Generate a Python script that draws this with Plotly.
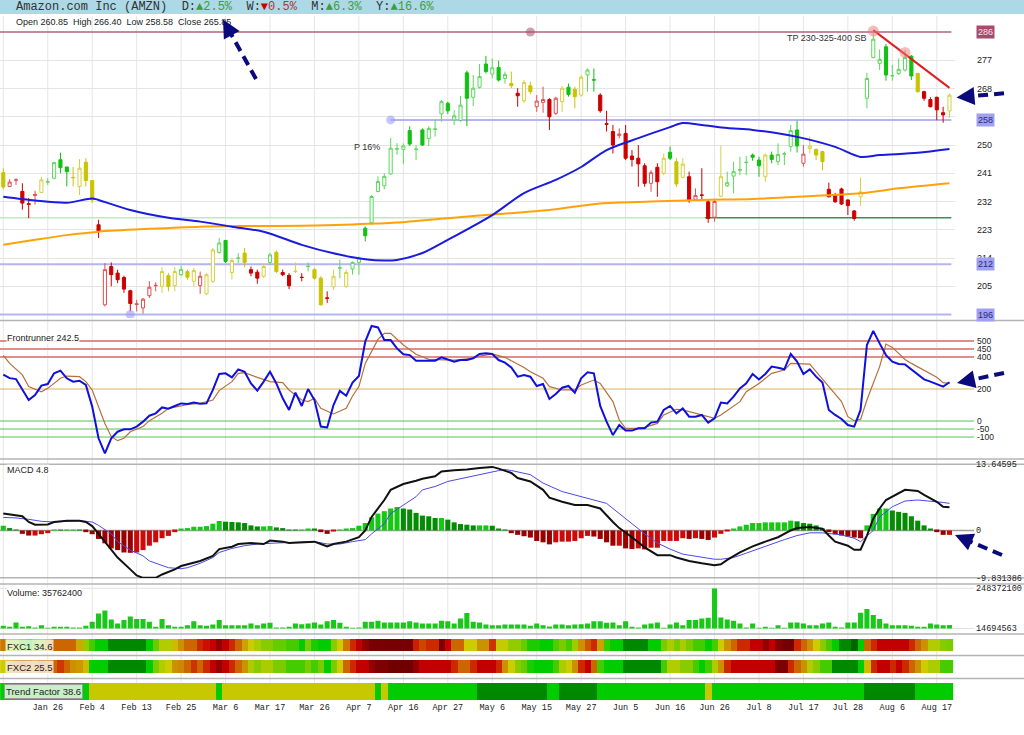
import math
import plotly.graph_objects as go

W, H = 1024, 735

# ---- x axis: one slot per trading day, a date label every 7th bar ----
TICK_BARS = [0, 7, 14, 21, 28, 35, 42, 49, 56, 63, 70, 77, 84, 91, 98, 105, 112, 119, 126, 133, 140, 147]
TICK_LABELS = ["Jan 14", "Jan 26", "Feb 4", "Feb 13", "Feb 25", "Mar 6", "Mar 17", "Mar 26",
               "Apr 7", "Apr 16", "Apr 27", "May 6", "May 15", "May 27", "Jun 5", "Jun 16",
               "Jun 26", "Jul 8", "Jul 17", "Jul 28", "Aug 6", "Aug 17"]

# ---- price candles ----
OPEN = [241.2, 236.8, 238.8, 235.2, 231.3, 233.9, 234.9, 238.2, 239.4, 245.3,
        243.0, 239.7, 236.8, 244.5, 238.7, 224.6, 199.1, 211.3, 209.2, 207.8,
        203.6, 199.2, 198.1, 202.0, 205.2, 205.0, 208.4, 205.2, 208.7, 209.7,
        206.6, 205.2, 202.6, 206.6, 215.8, 219.6, 209.4, 213.9, 215.6, 210.3,
        209.5, 208.2, 212.6, 215.8, 209.4, 208.5, 209.7, 207.9, 211.3, 210.3,
        207.6, 201.3, 204.8, 210.8, 205.0, 210.5, 212.6, 223.5, 225.3, 235.2,
        237.0, 240.8, 248.7, 248.6, 254.6, 248.6, 254.8, 252.1, 255.0, 259.9,
        263.3, 258.0, 257.8, 273.0, 265.2, 268.4, 275.8, 272.6, 274.7, 271.2,
        269.6, 266.5, 264.1, 268.9, 262.2, 263.6, 264.5, 260.1, 263.8, 268.4,
        267.7, 265.9, 272.3, 270.8, 265.9, 256.8, 254.3, 253.0, 253.7, 246.5,
        245.8, 243.4, 237.8, 242.9, 241.0, 247.7, 244.7, 239.7, 239.9, 232.7,
        234.1, 231.9, 227.0, 233.7, 237.0, 240.1, 242.0, 244.4, 246.8, 245.2,
        239.9, 246.8, 244.7, 247.1, 249.5, 254.8, 244.2, 248.9, 248.6, 247.9,
        235.9, 234.1, 236.0, 232.5, 229.0, 233.5, 264.9, 277.9, 276.0, 281.3,
        272.0, 272.8, 273.9, 278.3, 272.8, 267.0, 264.5, 265.2, 260.3, 260.85]
HIGH = [242.6, 239.1, 239.4, 237.8, 233.1, 235.4, 239.9, 239.4, 244.7, 247.6,
        243.1, 243.0, 245.5, 245.8, 238.9, 226.2, 212.4, 212.6, 210.3, 208.4,
        203.9, 200.7, 201.3, 206.6, 206.3, 211.1, 209.2, 211.1, 211.6, 210.3,
        210.8, 209.7, 209.2, 217.2, 220.4, 219.8, 214.0, 215.6, 217.2, 211.3,
        210.3, 212.4, 215.6, 216.4, 210.3, 209.2, 212.6, 209.2, 212.6, 210.8,
        208.2, 203.4, 210.3, 213.5, 210.3, 212.9, 214.5, 224.1, 234.1, 240.0,
        241.0, 252.2, 250.6, 250.5, 256.0, 250.0, 255.3, 256.0, 258.0, 264.3,
        263.8, 261.1, 265.6, 273.7, 272.3, 275.8, 278.4, 277.6, 276.9, 273.4,
        273.4, 268.1, 270.7, 270.2, 265.9, 268.6, 264.9, 265.4, 268.8, 269.6,
        268.6, 272.3, 274.4, 274.4, 266.5, 260.9, 256.4, 255.3, 256.4, 248.4,
        250.0, 244.2, 242.0, 244.2, 247.3, 249.5, 245.8, 245.8, 241.5, 236.2,
        242.6, 232.7, 232.5, 249.7, 241.5, 244.7, 246.3, 246.5, 247.3, 246.3,
        247.3, 247.9, 250.5, 247.9, 256.4, 257.8, 250.0, 252.7, 248.9, 248.2,
        238.0, 234.8, 236.4, 232.7, 229.3, 239.7, 273.0, 285.6, 280.5, 282.2,
        275.5, 277.6, 280.3, 278.7, 273.0, 267.3, 265.2, 265.4, 262.2, 266.40]
LOW = [235.9, 236.6, 237.3, 229.4, 226.7, 231.0, 234.7, 237.3, 239.1, 241.0,
       236.8, 236.8, 234.1, 236.8, 231.5, 220.4, 198.6, 205.0, 206.0, 202.9,
       197.0, 197.0, 196.3, 201.3, 203.4, 202.9, 203.4, 203.4, 208.2, 207.1,
       205.0, 202.6, 202.3, 206.0, 215.4, 212.4, 207.1, 212.4, 211.1, 208.2,
       205.8, 207.6, 211.9, 209.2, 208.2, 204.1, 209.2, 206.6, 209.7, 207.1,
       198.8, 199.7, 203.9, 207.6, 204.5, 208.7, 208.7, 219.3, 224.6, 234.9,
       235.9, 240.5, 246.9, 243.9, 249.7, 245.2, 249.7, 249.7, 252.7, 257.4,
       259.9, 256.4, 257.4, 256.0, 262.4, 268.0, 272.8, 271.2, 270.2, 269.6,
       268.1, 262.2, 263.3, 266.2, 260.6, 260.3, 254.8, 259.6, 260.6, 265.4,
       261.7, 265.4, 267.0, 267.0, 260.3, 254.3, 247.3, 252.1, 245.2, 243.1,
       236.7, 236.7, 235.1, 233.5, 240.4, 245.2, 236.7, 239.4, 231.6, 232.3,
       232.5, 225.2, 225.6, 233.3, 236.7, 234.6, 240.4, 240.4, 245.0, 239.9,
       238.3, 244.2, 243.6, 243.6, 247.9, 247.6, 243.1, 247.3, 245.2, 242.0,
       233.3, 231.6, 230.9, 227.7, 225.9, 230.6, 261.7, 277.6, 273.9, 270.5,
       270.5, 272.3, 273.4, 270.7, 266.7, 264.1, 262.0, 257.9, 257.1, 258.58]
CLOSE = [236.6, 238.2, 238.9, 231.5, 231.1, 234.3, 238.9, 238.3, 244.4, 242.8,
         241.5, 239.6, 242.6, 238.7, 232.5, 222.5, 210.3, 208.7, 207.1, 204.1,
         199.5, 199.4, 200.9, 204.7, 205.3, 209.7, 205.0, 209.7, 210.3, 207.9,
         210.0, 208.2, 208.7, 216.6, 218.8, 212.9, 213.2, 214.0, 212.6, 209.2,
         207.6, 211.3, 215.0, 209.7, 208.7, 205.2, 209.8, 207.8, 211.4, 207.6,
         199.1, 201.2, 208.2, 210.9, 209.4, 212.6, 214.0, 221.1, 233.6, 238.4,
         240.0, 249.0, 248.8, 249.7, 250.3, 248.7, 250.0, 255.3, 255.1, 263.8,
         260.9, 259.3, 262.7, 264.9, 268.1, 271.8, 273.4, 274.6, 270.7, 272.5,
         268.9, 265.7, 269.9, 267.0, 264.0, 264.5, 259.0, 264.9, 268.1, 266.1,
         265.4, 271.6, 273.9, 270.7, 260.9, 256.6, 250.0, 253.5, 245.8, 245.4,
         244.0, 237.8, 241.2, 238.3, 245.8, 245.8, 237.6, 243.9, 232.3, 233.9,
         234.0, 226.6, 232.0, 239.9, 238.0, 241.5, 242.1, 244.5, 246.1, 243.4,
         246.8, 245.4, 247.0, 247.2, 254.6, 249.7, 247.1, 249.7, 246.8, 244.7,
         233.5, 231.9, 231.2, 230.7, 226.6, 235.1, 271.2, 283.7, 277.3, 272.3,
         272.1, 274.1, 277.9, 272.0, 267.0, 264.9, 262.2, 261.2, 259.6, 265.85]
# G = green, Y = yellow, R = red candle state
CANDLE_STATE = ("YRRRRRYGGG" "GYYYYRRRRR" "RRRRRYYYGY" "YRYYGGYGYR" "RYGYRRYRGY"
                "YRYGYGGGGG" "GGGGGGGGGG" "GGGGGGGGGG" "YRYYRRRRYG" "YYGGRRRRRR"
                "RRRRYGYYRR" "RRRYGGGGGG" "YGGGGGRYYY" "RRRRRYGGGG" "GGGGYRRRRY")

# moving averages (bar, value)
MA_FAST_BARS = [0, 5, 10, 14, 15, 20, 26, 31, 36, 41, 47, 52, 57, 60, 62, 66, 70, 77, 82, 87,
                91, 95, 100, 105, 107, 110, 114, 118, 125, 131, 135, 138, 144, 149]
MA_FAST = [233.5, 232.3, 231.6, 233.0, 232.5, 229.3, 226.8, 225.6, 224.0, 222.4, 218.2, 215.5,
           213.6, 213.2, 213.4, 215.6, 219.8, 227.7, 234.7, 238.9, 243.0, 248.4, 252.2, 255.7,
           257.0, 256.4, 255.4, 254.8, 252.6, 249.4, 246.2, 246.8, 247.5, 248.7]
MA_SLOW_BARS = [0, 5, 10, 15, 23, 31, 39, 47, 55, 62, 70, 78, 86, 94, 102, 110, 118, 125, 135, 141, 149]
MA_SLOW = [218.2, 219.8, 221.3, 222.4, 223.3, 224.0, 224.2, 224.3, 224.7, 225.3, 226.7, 228.0,
           229.3, 231.4, 232.0, 232.5, 232.8, 233.5, 234.6, 236.2, 237.8]

PRICE_TICKS = [205, 214, 223, 232, 241, 250, 259, 268, 277]
PIVOT_BARS = [83, 61, 20]
PIVOT_PRICES = [286, 258, 196]
PEAK_BARS = [137, 142]
PEAK_PRICES = [286.3, 279.5]
TREND_LINE_BARS = [137, 149]
TREND_LINE_PRICES = [286.6, 268.2]
SUPPORT_LEVEL = 226.8
SUPPORT_SWITCH_BAR = 110.5

# ---- Frontrunner ----
FR_BARS = list(range(150))
FR_MAIN = [290, 268, 262, 194, 131, 162, 221, 231, 298, 315, 267, 246, 252, 225, 90, -108, -202, -108,
           -67, -52, -52, -35, -4, 33, 48, 85, 77, 94, 110, 106, 115, 108, 110, 194, 294, 298, 273,
           323, 308, 235, 190, 246, 308, 235, 142, 69, 177, 94, 200, 131, -35, -40, 100, 188, 158,
           240, 281, 496, 594, 585, 506, 506, 454, 417, 412, 377, 377, 377, 377, 398, 385, 371, 381,
           381, 392, 419, 423, 419, 381, 365, 335, 277, 288, 277, 219, 231, 138, 169, 208, 219, 177,
           267, 304, 298, 94, -4, -88, -25, -60, -60, -46, -46, -10, -4, 69, 94, 48, 79, 27, 27, 38,
           -10, 17, 115, 110, 152, 204, 235, 294, 260, 294, 340, 333, 323, 419, 371, 294, 323, 277,
           240, 69, 38, 13, -25, -35, 69, 475, 563, 485, 412, 371, 356, 354, 323, 288, 260, 246, 231,
           215, 242.5]
FR_SIG_BARS = [0, 1, 3, 4, 6, 7, 9, 10, 12, 13, 14, 15, 16, 17, 18, 19, 20, 22, 23, 25, 26, 28, 29,
               31, 33, 34, 36, 37, 38, 40, 42, 44, 45, 47, 48, 49, 50, 52, 54, 55, 56, 57, 59, 60, 61,
               63, 65, 67, 69, 71, 74, 75, 77, 79, 80, 82, 83, 85, 86, 88, 90, 91, 93, 94, 96, 97, 98,
               100, 101, 103, 104, 106, 107, 109, 111, 112, 113, 114, 116, 117, 119, 121, 123, 124,
               126, 127, 128, 130, 132, 133, 134, 135, 136, 138, 139, 140, 142, 143, 145, 147, 148, 149]
FR_SIG = [410, 360, 288, 215, 183, 204, 267, 281, 277, 246, 194, 90, -15, -98, -123, -108, -67, -35, 2,
          48, 79, 94, 104, 110, 131, 190, 246, 298, 302, 273, 246, 240, 194, 131, 121, 142, 79, 44, 79,
          156, 215, 360, 510, 548, 548, 475, 417, 385, 385, 381, 392, 406, 419, 398, 376, 335, 308, 267,
          215, 194, 194, 225, 256, 235, 121, 6, -46, -46, -40, -15, 38, 73, 69, 48, 27, 17, 38, 65, 121,
          183, 235, 298, 319, 360, 356, 356, 308, 215, 121, 27, 2, 10, 131, 340, 481, 460, 385, 360,
          315, 273, 240, 235]
FR_HIGH_LEVELS = [500, 450, 400]
FR_MID_LEVEL = 200
FR_LOW_LEVELS = [0, -50, -100]

# ---- MACD ----
MACD_HIST = [0.98, 0.49, 0.1, -0.7, -1.05, -1.05, -0.77, -0.56, 0.1, 0.05, 0.05, 0.1, 0.05, -0.35,
             -0.77, -1.75, -2.66, -3.71, -4.06, -4.55, -4.62, -4.55, -4.06, -3.15, -2.45, -1.61,
             -1.12, -0.35, 0.21, 0.49, 0.77, 0.77, 0.91, 1.4, 1.96, 1.82, 1.75, 1.68, 1.54, 1.05, 0.84,
             0.84, 0.91, 0.63, 0.49, 0.1, 0.05, 0.05, 0.35, 0.28, -0.35, -0.7, -0.21, 0.05, 0.28, 0.49,
             0.98, 1.54, 2.73, 3.5, 3.99, 4.55, 4.83, 4.55, 4.34, 3.64, 3.08, 2.94, 2.59, 2.59, 2.24,
             1.68, 1.33, 1.19, 1.05, 1.05, 1.05, 0.98, 0.35, 0.05, -0.56, -0.91, -1.19, -1.47, -2.17,
             -2.45, -2.87, -2.45, -2.31, -2.31, -2.17, -1.61, -1.12, -1.26, -1.75, -2.45, -3.15, -3.15,
             -3.71, -3.85, -3.71, -3.92, -3.57, -3.57, -2.17, -2.17, -2.17, -1.61, -1.75, -1.61, -1.75,
             -1.96, -1.47, -0.7, -0.21, 0.35, 0.84, 1.19, 1.54, 1.54, 1.68, 1.68, 1.68, 1.68, 2.03,
             1.89, 1.54, 1.4, 1.05, 0.35, -0.35, -0.77, -1.05, -1.26, -1.47, -1.61, 1.05, 3.43, 4.55,
             4.55, 4.13, 3.85, 3.64, 2.94, 2.03, 1.05, 0.35, -0.35, -0.91, -0.91]
MACD_BARS = [0, 1, 3, 4, 5, 7, 8, 10, 12, 13, 14, 15, 17, 18, 20, 21, 22, 24, 25, 27, 28, 30, 31, 33,
             34, 36, 37, 39, 41, 42, 44, 45, 47, 49, 50, 51, 52, 54, 56, 57, 58, 60, 61, 63, 65, 66,
             68, 69, 71, 73, 75, 77, 78, 80, 81, 83, 85, 86, 88, 90, 92, 94, 96, 97, 99, 101, 103, 105,
             106, 108, 110, 112, 113, 114, 116, 118, 120, 122, 124, 125, 127, 129, 130, 131, 133, 134,
             135, 136, 137, 138, 139, 141, 142, 144, 145, 147, 148, 149]
MACD_LINE = [3.5, 3.29, 2.94, 1.75, 1.19, 1.26, 1.75, 2.03, 2.03, 1.75, 0.91, -0.7, -3.85, -5.6, -8.05,
             -9.31, -9.8, -9.8, -9.1, -8.05, -7.35, -6.65, -6.3, -5.25, -3.85, -3.36, -2.8, -2.59,
             -2.8, -2.1, -2.31, -2.59, -2.45, -2.31, -2.8, -3.29, -2.8, -2.31, -1.4, 0.0, 2.8, 6.3, 8.4,
             9.6, 10.3, 10.7, 11.2, 12.2, 12.45, 12.6, 12.94, 13.15, 12.8, 11.9, 10.84, 10.14, 8.4, 6.8,
             5.94, 5.25, 5.25, 4.55, 1.75, 0.49, -1.4, -3.5, -5.11, -5.11, -5.6, -6.3, -6.79, -7.21,
             -7.0, -6.09, -4.55, -3.29, -2.31, -1.4, 0.0, 0.49, 0.7, 0.35, -1.05, -2.31, -3.15, -3.99,
             -3.99, -1.05, 2.45, 4.55, 6.3, 7.7, 8.4, 8.19, 7.35, 5.94, 4.9, 4.8]
SIGNAL_BARS = [0, 2, 4, 6, 8, 10, 12, 14, 15, 17, 18, 20, 22, 23, 25, 26, 28, 29, 31, 33, 34, 36, 38,
               40, 43, 45, 47, 49, 51, 53, 55, 57, 58, 60, 61, 63, 65, 66, 68, 70, 72, 74, 76, 78, 79,
               80, 83, 85, 88, 91, 93, 95, 97, 99, 101, 103, 105, 107, 110, 112, 113, 115, 117, 119,
               121, 123, 125, 127, 129, 132, 134, 135, 137, 138, 140, 142, 144, 146, 148, 149]
SIGNAL_LINE = [2.7, 2.59, 2.31, 1.89, 1.75, 1.89, 2.03, 1.75, 1.05, -0.7, -2.31, -4.06, -5.25, -6.3,
               -7.21, -7.7, -7.91, -7.7, -6.79, -5.6, -4.55, -3.71, -3.15, -2.8, -2.59, -2.45, -2.31,
               -2.31, -2.8, -2.8, -2.31, -1.89, -0.7, 1.4, 3.5, 5.25, 6.99, 8.4, 9.1, 10.14, 10.7,
               11.4, 11.9, 12.38, 12.6, 12.4, 11.54, 9.8, 8.05, 7.0, 6.44, 5.6, 3.5, 1.4, -0.7, -2.59,
               -3.85, -4.9, -5.6, -5.95, -5.95, -5.6, -4.69, -3.71, -2.8, -1.89, -1.05, -0.49, -0.49,
               -0.91, -1.61, -2.31, 0.0, 2.8, 4.9, 6.09, 6.3, 6.09, 5.8, 5.6]
MACD_MAX = 13.64595
MACD_MIN = -9.831386

# ---- Volume (millions) ----
VOLUME_M = [30.0, 24.4, 49.7, 24.4, 28.3, 20.5, 34.2, 18.6, 24.4, 24.4, 24.4, 20.5, 20.5, 30.3, 53.6,
            102.3, 119.8, 67.3, 43.9, 63.4, 84.8, 69.2, 69.2, 53.6, 24.4, 69.2, 34.2, 24.4, 24.4, 34.2,
            57.5, 34.2, 30.3, 38.1, 63.4, 34.2, 34.2, 34.2, 34.2, 43.9, 34.2, 43.9, 47.8, 20.5, 20.5,
            24.4, 43.9, 40.0, 43.9, 49.7, 38.1, 57.5, 63.4, 47.8, 24.4, 18.6, 20.5, 53.6, 53.6, 59.5,
            49.7, 49.7, 49.7, 49.7, 57.5, 49.7, 43.9, 43.9, 43.9, 59.5, 57.5, 43.9, 73.1, 104.2, 53.6,
            49.7, 38.1, 34.2, 34.2, 38.1, 38.1, 38.1, 38.1, 30.3, 43.9, 34.2, 26.4, 38.1, 38.1, 34.2,
            38.1, 40.0, 43.9, 57.5, 57.5, 47.8, 49.7, 34.2, 57.5, 24.4, 20.5, 38.1, 43.9, 49.7, 18.6,
            38.1, 49.7, 34.2, 63.4, 63.4, 73.1, 77.0, 248.37, 78.9, 67.3, 59.5, 43.9, 20.5, 43.9, 18.6,
            24.4, 18.6, 34.2, 18.6, 49.7, 49.7, 43.9, 34.2, 34.2, 43.9, 49.7, 24.4, 20.5, 49.7, 49.7,
            106.2, 127.6, 92.6, 69.2, 43.9, 34.2, 34.2, 34.2, 30.3, 24.4, 24.4, 43.9, 38.1, 34.2, 35.76]
VOL_MAX_M = 248.3721
VOL_MIN_M = 14.694563

# ---- heat strips (0 = deep red ... 100 = deep green) ----
FXC1 = [42, 70, 70, 80, 85, 75, 70, 45, 40, 40, 40, 40, 48, 68, 80, 88, 88, 95, 95, 95,
        95, 95, 95, 88, 75, 60, 60, 50, 45, 40, 40, 30, 25, 20, 10, 20, 30, 40, 47, 52,
        62, 70, 70, 75, 75, 80, 80, 88, 72, 85, 88, 88, 70, 52, 42, 30, 20, 10, 3, 3,
        3, 3, 3, 3, 3, 28, 35, 30, 30, 5, 22, 40, 40, 52, 52, 45, 45, 32, 55, 55,
        68, 68, 75, 85, 85, 88, 88, 78, 72, 80, 65, 45, 38, 30, 47, 82, 88, 88, 95, 95,
        95, 95, 88, 88, 72, 62, 72, 62, 72, 80, 80, 88, 80, 52, 45, 40, 30, 30, 20, 20,
        10, 20, 8, 2, 2, 30, 40, 45, 52, 70, 80, 88, 95, 95, 100, 88, 40, 30, 20, 20,
        20, 20, 20, 30, 40, 45, 60, 60, 70, 72]
FXC2 = [52, 45, 42, 40, 42, 45, 40, 42, 40, 33, 40, 45, 46, 50, 88, 88, 88, 95, 95, 95,
        95, 95, 95, 88, 72, 60, 52, 45, 44, 40, 32, 40, 30, 20, 10, 20, 30, 40, 45, 62,
        70, 62, 62, 72, 72, 80, 80, 80, 72, 80, 72, 88, 72, 52, 40, 30, 20, 20, 10, 5,
        5, 0, 0, 0, 0, 10, 20, 20, 20, 20, 20, 30, 40, 40, 30, 20, 20, 20, 30, 45,
        52, 70, 75, 85, 88, 88, 88, 80, 62, 52, 45, 30, 20, 40, 80, 88, 88, 88, 95, 95,
        95, 95, 95, 95, 80, 60, 60, 70, 70, 80, 88, 80, 62, 45, 30, 20, 20, 20, 20, 20,
        20, 20, 5, 5, 30, 40, 45, 60, 70, 80, 80, 95, 95, 95, 95, 88, 50, 30, 20, 20,
        30, 20, 30, 40, 45, 52, 62, 62, 80, 80]
# 0 = yellow, 1 = green, 2 = dark green
TREND = ("1111111111" "1111000000" "0000000000" "0000100000" "0000000000"
         "0000000001" "0111111111" "1111122222" "2222221122" "2222111111"
         "1111111111" "1011111111" "1111111111" "1111112222" "2222111111")

BARS = list(range(len(CLOSE)))
X_RANGE = [-0.52, 149.87]
X_DOMAIN = [0, 955 / W]
NAVY = "#0a0a7d"
SANS = "Liberation Sans"
MONO = "Liberation Mono"


def px(x):
    return x / W


def py(y):
    return 1 - y / H


fig = go.Figure()

# price panel
fig.add_trace(go.Scatter(x=MA_SLOW_BARS, y=MA_SLOW, mode="lines", hoverinfo="skip",
                         line=dict(color="#ffa20a", width=2, shape="spline", smoothing=0.8)))
fig.add_trace(go.Scatter(x=MA_FAST_BARS, y=MA_FAST, mode="lines", hoverinfo="skip",
                         line=dict(color="#1a1ae0", width=2, shape="spline", smoothing=0.8)))

CANDLE_STYLE = {"G": ("#12c012", "#5cd85c"), "Y": ("#c8c400", "#d4d040"), "R": ("#cc0000", "#e05050")}
for state, (solid, light) in CANDLE_STYLE.items():
    idx = [i for i in BARS if CANDLE_STATE[i] == state]
    fig.add_trace(go.Candlestick(
        x=idx, open=[OPEN[i] for i in idx], high=[HIGH[i] for i in idx],
        low=[LOW[i] for i in idx], close=[CLOSE[i] for i in idx],
        increasing=dict(line=dict(color=light, width=1), fillcolor="white"),
        decreasing=dict(line=dict(color=solid, width=1), fillcolor=solid),
        hoverinfo="skip", xaxis="x", yaxis="y"))

fig.add_trace(go.Scatter(x=TREND_LINE_BARS, y=TREND_LINE_PRICES, mode="lines", hoverinfo="skip",
                         line=dict(color="#dd2020", width=2)))
fig.add_trace(go.Scatter(x=PIVOT_BARS, y=PIVOT_PRICES, mode="markers", hoverinfo="skip",
                         marker=dict(size=9, color=["rgba(170,80,110,0.55)", "rgba(150,150,255,0.55)",
                                                    "rgba(150,150,255,0.55)"])))
fig.add_trace(go.Scatter(x=PEAK_BARS, y=PEAK_PRICES, mode="markers", hoverinfo="skip",
                         marker=dict(size=11, color="rgba(240,120,120,0.5)")))

# frontrunner
fig.add_trace(go.Scatter(x=FR_SIG_BARS, y=FR_SIG, mode="lines", hoverinfo="skip",
                         line=dict(color="#b5703c", width=1.2), xaxis="x2", yaxis="y2"))
fig.add_trace(go.Scatter(x=FR_BARS, y=FR_MAIN, mode="lines", hoverinfo="skip",
                         line=dict(color="#1010dd", width=2), xaxis="x2", yaxis="y2"))

# macd
hist_colors = []
for k, h in enumerate(MACD_HIST):
    prev = MACD_HIST[k - 1] if k else h
    if h >= 0:
        hist_colors.append("#14c814" if h >= prev else "#058c05")
    else:
        hist_colors.append("#cc0a0a" if h >= prev else "#9a0000")
fig.add_trace(go.Bar(x=BARS, y=MACD_HIST, marker=dict(color=hist_colors, line=dict(width=0)),
                     width=0.8, hoverinfo="skip", xaxis="x3", yaxis="y3"))
fig.add_trace(go.Scatter(x=SIGNAL_BARS, y=SIGNAL_LINE, mode="lines", hoverinfo="skip",
                         line=dict(color="#4a4ae8", width=1), xaxis="x3", yaxis="y3"))
fig.add_trace(go.Scatter(x=MACD_BARS, y=MACD_LINE, mode="lines", hoverinfo="skip",
                         line=dict(color="#111111", width=2), xaxis="x3", yaxis="y3"))

# volume
fig.add_trace(go.Bar(x=BARS, y=VOLUME_M, marker=dict(color="#19c819", line=dict(width=0)),
                     width=0.8, hoverinfo="skip", xaxis="x4", yaxis="y4"))

# heat strips
FXC_SCALE = [[0, "#700000"], [0.08, "#880000"], [0.15, "#aa0000"], [0.22, "#cc0000"],
             [0.32, "#cc3300"], [0.40, "#cc6600"], [0.46, "#cc9900"], [0.52, "#cccc00"],
             [0.62, "#aacc00"], [0.70, "#88cc00"], [0.80, "#44cc00"], [0.88, "#00cc00"],
             [0.95, "#008800"], [1, "#006600"]]
fig.add_trace(go.Heatmap(x=BARS, y=[0], z=[FXC1], colorscale=FXC_SCALE, zmin=0, zmax=100,
                         showscale=False, hoverinfo="skip", xaxis="x5", yaxis="y5"))
fig.add_trace(go.Heatmap(x=BARS, y=[0], z=[FXC2], colorscale=FXC_SCALE, zmin=0, zmax=100,
                         showscale=False, hoverinfo="skip", xaxis="x6", yaxis="y6"))
fig.add_trace(go.Heatmap(x=BARS, y=[0], z=[[int(c) for c in TREND]],
                         colorscale=[[0, "#c8c800"], [0.5, "#00cc00"], [1, "#008800"]],
                         zmin=0, zmax=2, showscale=False, hoverinfo="skip", xaxis="x7", yaxis="y7"))

# ---- shapes ----
shapes = []
for b in TICK_BARS:
    shapes.append(dict(type="line", xref="x", yref="paper", x0=b, x1=b, y0=py(700), y1=py(16),
                       line=dict(color="#e6e6e6", width=1), layer="below"))
shapes.append(dict(type="rect", xref="paper", yref="paper", x0=0, x1=1, y0=py(14), y1=1,
                   fillcolor="#add8e6", line=dict(width=0), layer="below"))
for yy in [320.5, 459, 464.3, 577.7, 584, 634, 655.5, 678.5]:
    shapes.append(dict(type="line", xref="paper", yref="paper", x0=0, x1=1, y0=py(yy), y1=py(yy),
                       line=dict(color="#b4b4b4", width=1.5), layer="below"))
for yy in [588.3, 628.5]:
    shapes.append(dict(type="line", xref="paper", yref="paper", x0=0, x1=px(974), y0=py(yy), y1=py(yy),
                       line=dict(color="#e2e2e2", width=1), layer="below"))
last_x = BARS[-1] + 0.3
shapes += [
    dict(type="line", xref="x", yref="y", x0=X_RANGE[0], x1=last_x, y0=PIVOT_PRICES[0], y1=PIVOT_PRICES[0],
         line=dict(color="#b06080", width=1.5), layer="below"),
    dict(type="line", xref="x", yref="y", x0=PIVOT_BARS[1], x1=last_x, y0=PIVOT_PRICES[1], y1=PIVOT_PRICES[1],
         line=dict(color="#b4b4f4", width=2), layer="below"),
    dict(type="line", xref="x", yref="y", x0=X_RANGE[0], x1=last_x, y0=212, y1=212,
         line=dict(color="#b4b4f4", width=2), layer="below"),
    dict(type="line", xref="x", yref="y", x0=X_RANGE[0], x1=last_x, y0=PIVOT_PRICES[2], y1=PIVOT_PRICES[2],
         line=dict(color="#b4b4f4", width=2), layer="below"),
    dict(type="line", xref="x", yref="y", x0=X_RANGE[0], x1=SUPPORT_SWITCH_BAR, y0=SUPPORT_LEVEL,
         y1=SUPPORT_LEVEL, line=dict(color="#c4e6c4", width=1.5), layer="below"),
    dict(type="line", xref="x", yref="y", x0=SUPPORT_SWITCH_BAR, x1=last_x, y0=SUPPORT_LEVEL,
         y1=SUPPORT_LEVEL, line=dict(color="#3c8c5c", width=1.5), layer="below"),
]
for lv in FR_HIGH_LEVELS:
    shapes.append(dict(type="line", xref="paper", yref="y2", x0=0, x1=px(974), y0=lv, y1=lv,
                       line=dict(color="#e68a8a", width=2), layer="below"))
shapes.append(dict(type="line", xref="paper", yref="y2", x0=0, x1=px(974), y0=FR_MID_LEVEL, y1=FR_MID_LEVEL,
                   line=dict(color="#d8b45a", width=1), layer="below"))
for lv in FR_LOW_LEVELS:
    shapes.append(dict(type="line", xref="paper", yref="y2", x0=0, x1=px(974), y0=lv, y1=lv,
                       line=dict(color="#55c055", width=1), layer="below"))
shapes.append(dict(type="line", xref="paper", yref="y3", x0=0, x1=px(974), y0=0, y1=0,
                   line=dict(color="#a0a0a0", width=1.5), layer="below"))

# ---- annotations ----
ann = []
header = ('<span style="color:#333">Amazon.com Inc (AMZN)\u00a0\u00a0D:</span>'
          '<span style="color:#3d9d3d">▲2.5%</span>'
          '<span style="color:#333">\u00a0\u00a0W:</span>'
          '<span style="color:#cc0000">▼</span><span style="color:#a83a3a">0.5%</span>'
          '<span style="color:#333">\u00a0\u00a0M:</span>'
          '<span style="color:#3d9d3d">▲6.3%</span>'
          '<span style="color:#333">\u00a0\u00a0Y:</span>'
          '<span style="color:#3d9d3d">▲16.6%</span>')
ann.append(dict(xref="paper", yref="paper", x=px(14), y=py(7), text=header, showarrow=False,
                xanchor="left", yanchor="middle", font=dict(family=MONO, size=12)))
ann.append(dict(xref="paper", yref="paper", x=px(14), y=py(22),
                text="Open 260.85\u00a0 High 266.40\u00a0 Low 258.58\u00a0 Close 265.85",
                showarrow=False, xanchor="left", yanchor="middle", font=dict(family=SANS, size=9, color="#222")))
ann.append(dict(xref="paper", yref="paper", x=px(868), y=py(38), text="TP 230-325-400 SB", showarrow=False,
                xanchor="right", yanchor="middle", font=dict(family=SANS, size=9, color="#333")))
ann.append(dict(xref="paper", yref="paper", x=px(352), y=py(147), text="P 16%", showarrow=False,
                xanchor="left", yanchor="middle", font=dict(family=SANS, size=9, color="#333")))

for txt, yy in [("Frontrunner 242.5", 338), ("MACD 4.8", 470), ("Volume: 35762400", 593)]:
    ann.append(dict(xref="paper", yref="paper", x=px(6), y=py(yy), text=txt, showarrow=False,
                    xanchor="left", yanchor="middle", bgcolor="rgba(255,255,255,0.85)", borderpad=0,
                    font=dict(family=SANS, size=9, color="#222")))
for txt, yy in [("FXC1 34.6", 646), ("FXC2 25.5", 667.5)]:
    ann.append(dict(xref="paper", yref="paper", x=px(5), y=py(yy), text=txt, showarrow=False,
                    xanchor="left", yanchor="middle", bgcolor="rgba(255,255,255,0.75)", borderpad=1,
                    font=dict(family=SANS, size=9.5, color="#222")))
ann.append(dict(xref="paper", yref="paper", x=px(4), y=py(691.5), text="Trend Factor 38.6", showarrow=False,
                xanchor="left", yanchor="middle", bgcolor="rgba(235,245,235,0.85)", bordercolor="#9a9a9a",
                borderwidth=1, borderpad=1, font=dict(family=SANS, size=9.5, color="#222")))

for lv, bg, fg in [(286, "#a84a6c", "#f4e0e8"), (258, "#a0a0f0", "#2a2a80"),
                   (212, "#a0a0f0", "#2a2a80"), (196, "#a0a0f0", "#2a2a80")]:
    ann.append(dict(xref="paper", yref="y", x=px(985), y=lv, text=str(lv), showarrow=False,
                    xanchor="center", yanchor="middle", bgcolor=bg, borderpad=1,
                    font=dict(family=SANS, size=9, color=fg)))

ARROWS = [((256, 79), (223, 19.5)), ((1004, 93.3), (956.5, 97.5)),
          ((1004, 373), (957, 383)), ((1002, 555), (955, 535))]
HEAD = 18
for (tx, ty), (hx, hy) in ARROWS:
    dx, dy = tx - hx, ty - hy
    n = math.hypot(dx, dy)
    ux, uy = dx / n, dy / n
    shapes.append(dict(type="line", xref="paper", yref="paper", x0=px(tx), y0=py(ty),
                       x1=px(hx + ux * HEAD * 0.9), y1=py(hy + uy * HEAD * 0.9),
                       line=dict(color=NAVY, width=4, dash="10px,6px")))
    ann.append(dict(xref="paper", yref="paper", x=px(hx), y=py(hy), ax=ux * HEAD, ay=uy * HEAD,
                    text="", showarrow=True, arrowhead=2, arrowsize=0.9, arrowwidth=4,
                    arrowcolor=NAVY, standoff=0))

# ---- axes ----
def xax(anchor, labels=False):
    d = dict(range=X_RANGE, domain=X_DOMAIN, anchor=anchor, showgrid=False, zeroline=False,
             showticklabels=labels, ticks="", fixedrange=True, showline=False, automargin=False)
    if labels:
        d.update(tickmode="array", tickvals=TICK_BARS, ticktext=TICK_LABELS,
                 tickfont=dict(family=MONO, size=8.5, color="#222"))
    return d


def yax(y0, y1, rng, tickvals, ticktext, font, grid=False, pos=976):
    return dict(domain=[py(y1), py(y0)], range=rng, side="right", anchor="free", position=px(pos),
                tickmode="array", tickvals=tickvals, ticktext=ticktext, showgrid=grid,
                gridcolor="#e4e4e4", zeroline=False, ticks="", showline=False, fixedrange=True,
                tickfont=font, automargin=False)


sans9 = dict(family=SANS, size=9, color="#222")
mono_small = dict(family=MONO, size=8.5, color="#222")
hidden = dict(showticklabels=False, showgrid=False, zeroline=False, fixedrange=True,
              range=[-0.5, 0.5], automargin=False)

fig.update_layout(
    template="none", font=dict(family=SANS, size=9, color="#222"),
    width=W, height=H, margin=dict(l=0, r=0, t=0, b=0, pad=0, autoexpand=False),
    paper_bgcolor="white", plot_bgcolor="white", showlegend=False,
    xaxis=dict(**xax("y"), rangeslider=dict(visible=False)),
    xaxis2=xax("y2"), xaxis3=xax("y3"), xaxis4=xax("y4"),
    xaxis5=xax("y5"), xaxis6=xax("y6"), xaxis7=xax("y7", labels=True),
    yaxis=yax(16, 318, [194.9, 291.1], PRICE_TICKS, [str(t) for t in PRICE_TICKS], sans9, grid=True),
    yaxis2=yax(321, 459, [-237.5, 625], FR_HIGH_LEVELS + [FR_MID_LEVEL] + FR_LOW_LEVELS,
               [str(v) for v in FR_HIGH_LEVELS + [FR_MID_LEVEL] + FR_LOW_LEVELS],
               dict(family=SANS, size=8.5, color="#222")),
    yaxis3=yax(464.5, 578, [MACD_MIN, MACD_MAX], [MACD_MAX, 0, MACD_MIN],
               ["13.64595", "0", "-9.831386"], mono_small, pos=975),
    yaxis4=yax(588.3, 628.5, [VOL_MIN_M, VOL_MAX_M], [VOL_MAX_M, VOL_MIN_M],
               ["248372100", "14694563"], mono_small, pos=975),
    yaxis5=dict(domain=[py(651), py(639)], anchor="x5", **hidden),
    yaxis6=dict(domain=[py(673), py(660)], anchor="x6", **hidden),
    yaxis7=dict(domain=[py(700), py(683)], anchor="x7", **hidden),
    shapes=shapes, annotations=ann, bargap=0.2,
)

# the page's default body margin would shift the 1024x735 figure; remove it
fig.write_html(
    "out.html",
    config={"displayModeBar": False},
    post_script="document.body.style.margin='0';document.body.style.overflow='hidden';"
                "document.documentElement.style.overflow='hidden';",
)
